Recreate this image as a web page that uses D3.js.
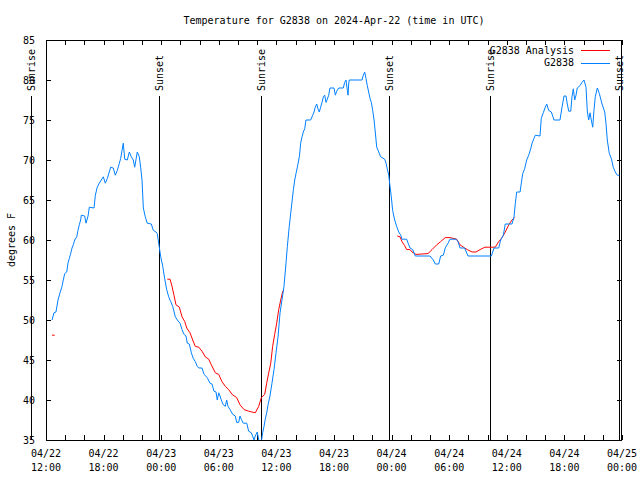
<!DOCTYPE html>
<html>
<head>
<meta charset="utf-8">
<script src="https://cdn.jsdelivr.net/npm/d3@7"></script>
<style>
  html, body { margin: 0; padding: 0; background: #fff; }
  text { font-family: "DejaVu Sans Mono", monospace; font-size: 10px; fill: #000; }
</style>
</head>
<body>
<svg id="chart" width="640" height="480"></svg>
<script>
// ---- data (hours after 2024-04-22 12:00 UTC, degrees F) ----
const startTime = "2024-04-22T12:00:00Z";
const endTime = "2024-04-25T00:00:00Z";

const obsHours = [0.63,0.83,1.04,1.25,1.46,1.67,1.80,1.95,2.16,2.29,2.43,2.57,2.71,2.84,2.99,3.20,3.33,3.47,3.61,3.68,4.03,4.17,4.38,4.51,5.00,5.14,5.34,5.55,5.76,5.97,6.18,6.39,6.59,6.74,7.01,7.22,7.43,7.64,7.78,7.92,8.05,8.20,8.47,8.68,8.89,9.09,9.24,9.38,9.51,9.72,9.86,10.00,10.14,10.34,10.55,10.97,11.18,11.46,11.59,11.79,11.95,12.16,12.36,12.57,12.78,12.99,13.20,13.47,13.68,13.96,14.17,14.38,14.58,14.72,14.93,15.14,15.34,15.55,15.76,15.91,16.25,16.46,16.80,17.08,17.29,17.50,17.71,17.84,17.99,18.13,18.26,18.47,18.68,18.82,18.96,19.17,19.45,19.72,19.86,20.07,20.21,20.34,20.55,20.91,21.11,21.39,21.67,21.80,22.01,22.16,22.43,22.57,22.71,22.84,22.99,23.13,23.33,23.54,23.75,23.96,24.17,24.38,24.58,24.79,25.00,25.14,25.34,25.76,25.91,26.04,26.18,26.39,26.53,26.67,26.80,26.95,27.08,27.57,27.78,27.92,28.05,28.20,28.33,28.47,28.61,28.75,28.89,29.03,29.17,29.30,29.45,29.58,30.00,30.14,30.28,30.49,30.97,31.11,31.25,31.39,31.46,31.53,31.59,32.92,33.05,33.20,33.33,33.47,33.61,33.75,33.89,34.03,34.17,34.30,34.45,34.66,34.86,35.28,35.42,35.55,35.70,35.83,35.97,36.11,36.32,36.53,36.74,36.95,37.08,37.57,37.78,37.92,38.20,38.47,40.00,40.34,40.55,40.91,41.11,41.39,41.59,41.88,42.08,42.71,42.92,43.13,43.61,43.96,46.39,46.67,47.16,47.36,47.64,47.84,48.54,48.75,48.89,49.03,49.38,49.51,49.66,49.86,50.07,50.28,50.49,50.63,50.83,50.97,51.46,51.59,51.80,52.01,52.16,52.36,52.64,52.92,53.54,53.75,53.96,54.17,54.30,54.45,54.66,54.79,54.93,55.07,55.21,55.34,55.63,55.83,56.04,56.25,56.39,56.53,56.67,56.80,56.95,57.08,57.22,57.43,57.64,57.92,58.20,58.33,58.47,58.68,58.89,59.09,59.30,59.51,59.72];
const obsTemps = [50.0,50.9,51,52.5,53.4,54.2,55,55.8,56,57.1,57.7,58.3,59,59.4,60,60.4,61.2,61.9,62.5,63.1,63,62.1,63,64.1,64,65.6,66.6,67.1,67.5,67.9,67.1,67.7,68.5,69.1,69,68.1,68.7,69.6,70.2,71.2,72.1,70.1,70,71,70.4,70,69.1,70.1,71,70.4,69.1,67.5,64,62.9,62.1,62,61.2,61,60.8,59.2,57.9,56.7,55.2,53.8,52.9,52.3,51.7,50.4,50,49.6,48.8,48.2,48,47.1,47,45.9,45.2,44.8,44.2,44,44,43.2,42.8,42.1,42,41.1,41,40,40.9,40.5,40,39.4,39.2,40,39.2,38.8,38.2,38,37.2,37.2,38,37.6,37.1,37.1,36.1,35.9,35,35.5,36,35,34.8,35.9,36.7,37.6,38.4,39.4,40.5,42.1,43.8,45.9,47.9,50.9,52.5,54.2,57.1,59.2,61.7,66.2,67.5,68.3,69.1,70.4,72.1,72.9,73.5,73.9,75,75,75.6,76,76.6,77,76.4,76,76.6,77.2,77.9,78.1,77.2,77.6,78.1,79,79,78.1,78.6,79,79,79.7,80,78.7,78.1,79.5,80,80,80.6,81,80.2,79.3,78.5,77.7,77.2,76.2,75,73.5,71.6,71,70.4,70.1,69.6,68.9,68.1,66.8,65.4,63.7,62.5,61.7,61,60.6,60.1,60.1,59.4,59,58.8,58,58,57.5,57,57,58,58.1,59,59.6,60.1,60.1,59.8,59,59,58,58,59,59,60,60.6,62,62,62.9,64.6,66,66,67.1,68.3,68.9,70,70.6,71.4,72.1,72.7,73.1,73,75.2,75.9,76.6,77,76.2,76,75,75,76.6,78,78,77,76.1,76.1,77.9,78.9,77.5,78.1,79,79.3,79.7,80,79.1,76,75,75.9,75,74.1,76.2,77.9,79,78.3,77,76,74.6,72.5,70.8,70.2,69.1,68.5,68.1,68.1];

// analysis series; null marks a gap
const anaHours = [0.63,0.91,null,12.64,12.92,13.13,13.33,13.54,13.89,14.17,14.45,14.66,15.00,15.28,15.55,15.91,16.25,16.59,16.95,17.22,17.64,17.99,18.33,18.68,19.03,19.38,19.86,20.21,20.63,21.11,21.46,21.80,22.16,22.43,22.78,22.99,23.20,23.41,23.61,23.82,24.03,24.24,24.45,24.66,24.79,null,36.59,36.88,37.08,37.36,37.57,37.92,38.13,38.54,39.79,40.21,40.70,41.11,41.59,42.08,42.78,43.13,43.61,43.89,44.38,44.79,45.21,45.72,46.80,47.16,47.50,47.84,48.20,48.54,48.82];
const anaTemps = [48.1,48.1,null,55.1,55.1,54.2,53.1,51.9,51.6,50.4,49.8,49,48.4,47.5,46.7,46.6,46.1,45.4,45.1,44.4,43.4,43.2,42.3,41.7,41.3,40.7,40.3,39.4,38.8,38.6,38.5,38.4,39.2,40.3,40.7,42.1,43.4,44.6,46.7,48.2,49.6,51.3,52.5,53.6,53.7,null,60.5,60.4,59.8,59.3,58.8,58.8,58.5,58.2,58.3,58.8,59.4,59.8,60.3,60.3,60.1,59.4,59,58.8,58.5,58.5,58.8,59.1,59.1,59.8,60.3,61,61.9,62.5,62.8];

const eventTimes = ["2024-04-22T10:24:00Z","2024-04-22T23:47:00Z","2024-04-23T10:24:00Z","2024-04-23T23:43:00Z","2024-04-24T10:15:00Z","2024-04-24T23:42:00Z"];
const eventLabels = ["Sunrise","Sunset","Sunrise","Sunset","Sunrise","Sunset"];

const yTicks = [35,40,45,50,55,60,65,70,75,80,85];
const seriesNames = ["G2838 Analysis","G2838"];
const seriesColors = ["#ff0000","#0080ff"];
const titleText = "Temperature for G2838 on 2024-Apr-22 (time in UTC)";
const yLabel = "degrees F";

// ---- layout ----
const L = 46, R = 622, T = 40, B = 440;
const svg = d3.select("#chart");
const t0 = new Date(startTime);
const toDate = h => new Date(t0.getTime() + h * 3600e3);

const x = d3.scaleUtc().domain([t0, new Date(endTime)]).range([L, R]);
const y = d3.scaleLinear().domain([35, 85]).range([B, T]);

svg.append("defs").append("clipPath").attr("id", "clip")
  .append("rect").attr("x", L).attr("y", T).attr("width", R - L).attr("height", B - T);

// title
svg.append("text").attr("x", 334).attr("y", 20).attr("text-anchor", "middle")
  .attr("dominant-baseline", "central").text(titleText);

// y label
svg.append("text").attr("transform", "translate(11,240) rotate(-90)")
  .attr("text-anchor", "middle").attr("dominant-baseline", "central").text(yLabel);

// x ticks bottom / top
const xTickVals = d3.utcHour.every(2).range(t0, new Date(new Date(endTime).getTime() + 1));
svg.append("g").attr("transform", `translate(0,${B})`)
  .call(d3.axisBottom(x).tickValues(xTickVals).tickSizeInner(-5).tickSizeOuter(0).tickFormat(""))
  .call(g => { g.select(".domain").remove(); g.selectAll("line").attr("stroke", "#000").attr("shape-rendering", "crispEdges"); });
svg.append("g").attr("transform", `translate(0,${T})`)
  .call(d3.axisTop(x).tickValues(xTickVals).tickSizeInner(-5).tickSizeOuter(0).tickFormat(""))
  .call(g => { g.select(".domain").remove(); g.selectAll("line").attr("stroke", "#000").attr("shape-rendering", "crispEdges"); });

// x labels every 6h (two lines)
const fmtD = d3.utcFormat("%m/%d"), fmtT = d3.utcFormat("%H:%M");
const labelVals = xTickVals.filter(d => d.getUTCHours() % 6 === 0);
const xl = svg.append("g").selectAll("text").data(labelVals).join("text")
  .attr("text-anchor", "middle").attr("x", d => x(d));
xl.append("tspan").attr("x", d => x(d)).attr("y", 457).text(d => fmtD(d));
xl.append("tspan").attr("x", d => x(d)).attr("y", 471).text(d => fmtT(d));

// y ticks left / right
svg.append("g").attr("transform", `translate(${L},0)`)
  .call(d3.axisLeft(y).tickValues(yTicks).tickSizeInner(-5).tickSizeOuter(0).tickPadding(11).tickFormat(d3.format("d")))
  .call(g => { g.select(".domain").remove(); g.selectAll("line").attr("stroke", "#000").attr("shape-rendering", "crispEdges");
               g.selectAll("text").attr("font-family", "DejaVu Sans Mono").attr("font-size", 10); });
svg.append("g").attr("transform", `translate(${R},0)`)
  .call(d3.axisRight(y).tickValues(yTicks).tickSizeInner(-5).tickSizeOuter(0).tickFormat(""))
  .call(g => { g.select(".domain").remove(); g.selectAll("line").attr("stroke", "#000").attr("shape-rendering", "crispEdges"); });

// event lines (sunrise / sunset)
const ev = svg.append("g");
eventTimes.forEach((s, i) => {
  const xe = Math.round(x(new Date(s))) + 0.5;
  ev.append("line").attr("x1", xe).attr("x2", xe).attr("y1", 96).attr("y2", B)
    .attr("stroke", "#000").attr("stroke-width", 1);
  ev.append("text").attr("transform", `translate(${xe},91) rotate(-90)`)
    .attr("text-anchor", "start").attr("dominant-baseline", "central").text(eventLabels[i]);
});

// data lines
const obs = obsHours.map((h, i) => ({ t: toDate(h), v: obsTemps[i] }));
const ana = anaHours.map((h, i) => ({ t: h === null ? null : toDate(h), v: anaTemps[i] }));
const line = d3.line().defined(d => d.v !== null).x(d => x(d.t)).y(d => y(d.v));
const plot = svg.append("g").attr("clip-path", "url(#clip)");
plot.append("path").datum(ana).attr("d", line).attr("fill", "none").attr("stroke", seriesColors[0]).attr("stroke-width", 1);
plot.append("path").datum(obs).attr("d", line).attr("fill", "none").attr("stroke", seriesColors[1]).attr("stroke-width", 1);

// border
svg.append("rect").attr("x", L + 0.5).attr("y", T + 0.5).attr("width", R - L - 1).attr("height", B - T)
  .attr("fill", "none").attr("stroke", "#000").attr("stroke-width", 1);

// legend
const lg = svg.append("g");
seriesNames.forEach((n, i) => {
  const ly = 50 + i * 12.5;
  lg.append("text").attr("x", 574).attr("y", ly).attr("text-anchor", "end").attr("dominant-baseline", "central").text(n);
  lg.append("line").attr("x1", 581).attr("x2", 610).attr("y1", Math.round(ly) + 0.5).attr("y2", Math.round(ly) + 0.5)
    .attr("stroke", seriesColors[i]).attr("stroke-width", 1);
});
</script>
</body>
</html>
